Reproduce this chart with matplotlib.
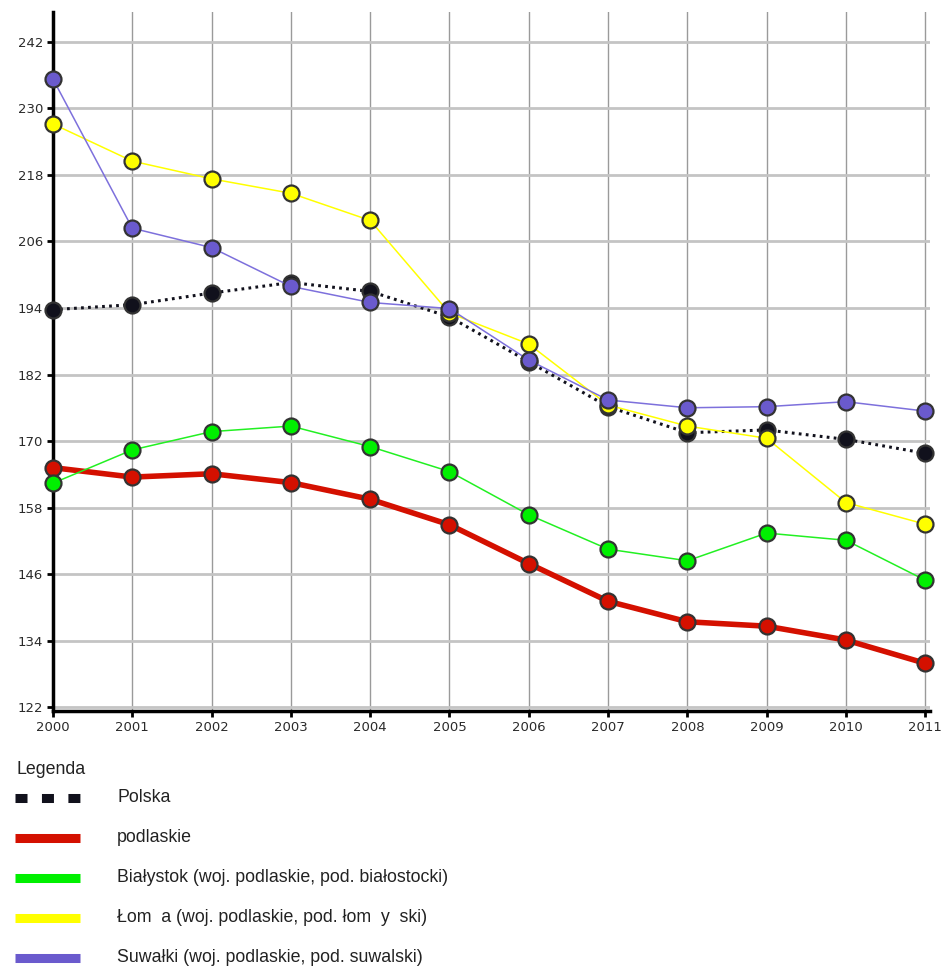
import matplotlib
matplotlib.use("Agg")
import matplotlib.pyplot as plt
from matplotlib.lines import Line2D

years = list(range(2000, 2012))
polska = [193.7, 194.6, 196.7, 198.6, 197.0, 192.4, 184.3, 176.2, 171.5, 172.0, 170.3, 167.8]
podlaskie = [165.2, 163.5, 164.1, 162.5, 159.5, 154.9, 147.9, 141.1, 137.4, 136.6, 134.1, 129.9]
bialystok = [162.4, 168.4, 171.7, 172.7, 169.0, 164.5, 156.7, 150.5, 148.4, 153.4, 152.1, 144.9]
lomza = [227.2, 220.5, 217.3, 214.7, 209.8, 193.1, 187.5, 176.5, 172.7, 170.5, 158.9, 155.0]
suwalki = [235.3, 208.4, 204.9, 197.9, 195.0, 193.9, 184.6, 177.4, 176.0, 176.2, 177.1, 175.4]
yticks = [122, 134, 146, 158, 170, 182, 194, 206, 218, 230, 242]

labels = ["Polska", "podlaskie",
          "Białystok (woj. podlaskie, pod. białostocki)",
          "Łom  a (woj. podlaskie, pod. łom  y  ski)",
          "Suwałki (woj. podlaskie, pod. suwalski)"]
series = [polska, podlaskie, bialystok, lomza, suwalki]
colors = ["#11111c", "#d41000", "#00f000", "#ffff00", "#6a5acd"]
linecolors = ["#11111c", "#d41000", "#22f022", "#ffff00", "#7d70dc"]
widths = [2.2, 4.0, 1.1, 1.1, 1.1]

fig = plt.figure(figsize=(9.46, 9.66), dpi=100)
ax = fig.add_axes([53/946, (966-711)/966, (930-53)/946, (711-12)/966])

for i in range(len(series)):
    ls = (0, (0.9, 1.4)) if i == 0 else "-"
    ax.plot(years, series[i], color=linecolors[i], lw=widths[i], linestyle=ls,
            marker="o", ms=11.5, mfc=colors[i], mec="#333333", mew=1.6,
            clip_on=False, zorder=3 + i, solid_capstyle="butt")

ax.set_xlim(2000, 2011.06)
ax.set_ylim(121.3, 247.4)
ax.set_xticks(years)
ax.set_yticks(yticks)
ax.yaxis.grid(True, color="#c4c4c4", lw=2.0)
ax.xaxis.grid(True, color="#9a9a9a", lw=1.0)
ax.set_axisbelow(True)
for s in ["top", "right"]:
    ax.spines[s].set_visible(False)
ax.spines["left"].set_linewidth(2.5)
ax.spines["bottom"].set_linewidth(2.5)
ax.tick_params(axis="both", length=4, width=2, color="black",
               labelsize=9.5, labelcolor="#2a2a2a", pad=3)

# legend drawn manually below the chart
fig.text(16/946, 1 - 770/966, "Legenda", fontsize=12.8, family="Liberation Sans",
         va="center", ha="left", color="#222222")
for i in range(len(labels)):
    yy = 1 - (798 + 40*i)/966
    if i == 0:
        ln = Line2D([15/946, 80/946], [yy, yy], color=colors[i], lw=6.5,
                    linestyle=(0, (1.33, 1.6)), solid_capstyle="butt",
                    dash_capstyle="butt", transform=fig.transFigure)
    else:
        ln = Line2D([15/946, 80/946], [yy, yy], color=colors[i], lw=6.5,
                    solid_capstyle="butt", transform=fig.transFigure)
    fig.add_artist(ln)
    fig.text(117/946, yy + 1/966, labels[i], fontsize=12.8, family="Liberation Sans",
             va="center", ha="left", color="#222222")

fig.savefig("out.png", dpi=100)
